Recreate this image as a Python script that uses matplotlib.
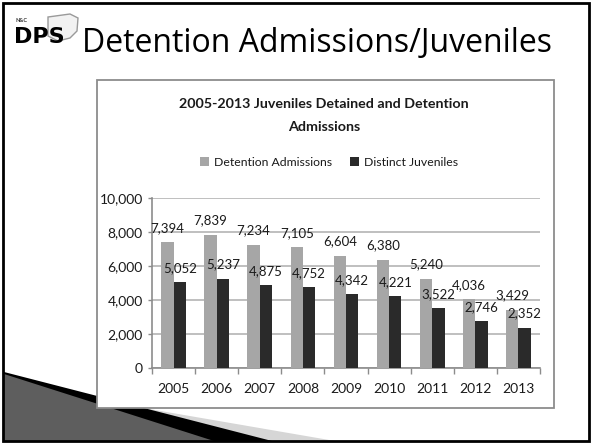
import matplotlib
matplotlib.use("Agg")
import matplotlib.pyplot as plt
from matplotlib.patches import Rectangle, Polygon
from matplotlib.ticker import FuncFormatter, MultipleLocator
import numpy as np

# data
years = ["2005", "2006", "2007", "2008", "2009", "2010", "2011", "2012", "2013"]
admissions = [7394, 7839, 7234, 7105, 6604, 6380, 5240, 4036, 3429]
juveniles = [5052, 5237, 4875, 4752, 4342, 4221, 3522, 2746, 2352]
series_names = ["Detention Admissions", "Distinct Juveniles"]

W, H = 592, 444
narrow = ["Lato", "DejaVu Sans"]
light_grey = "#a6a6a6"
dark_grey = "#2a2a2a"


def fx(px):
    return px / W


def fy(py):
    return 1 - py / H


fig = plt.figure(figsize=(W / 100, H / 100), dpi=100)
fig.patch.set_facecolor("white")

# slide decoration in the lower-left corner
fig.patches.append(Polygon([(fx(4), fy(384)), (fx(335), fy(441)), (fx(4), fy(441))],
                           closed=True, transform=fig.transFigure, facecolor="#d6d6d6",
                           edgecolor="none", zorder=0))
fig.patches.append(Polygon([(fx(4), fy(372)), (fx(272), fy(441)), (fx(4), fy(441))],
                           closed=True, transform=fig.transFigure, facecolor="black",
                           edgecolor="none", zorder=0))
fig.patches.append(Polygon([(fx(4), fy(374)), (fx(214), fy(441)), (fx(4), fy(441))],
                           closed=True, transform=fig.transFigure, facecolor="#5e5e5e",
                           edgecolor="none", zorder=0))

# slide border
fig.patches.append(Rectangle((fx(3), fy(441)), fx(586), 438 / H, transform=fig.transFigure,
                             facecolor="none", edgecolor="black", lw=2.0, zorder=5))

# logo
fig.patches.append(Polygon([(fx(48), fy(17)), (fx(70), fy(14)), (fx(78), fy(18)), (fx(77), fy(31)),
                            (fx(70), fy(38)), (fx(58), fy(41)), (fx(48), fy(36))],
                           closed=True, transform=fig.transFigure, facecolor="#f2f2f2",
                           edgecolor="#9a9a9a", lw=1.0, zorder=1))
fig.text(fx(16), fy(20), "N&C", fontsize=4, fontweight="bold", color="#333333",
         va="center", ha="left", family=narrow)
fig.text(fx(14), fy(37), "DPS", fontsize=16, fontweight="heavy", color="black",
         va="center", ha="left", family=["DejaVu Sans"], zorder=2)

# slide title
fig.text(fx(82), fy(43), "Detention Admissions/Juveniles", fontsize=23, color="black",
         va="center", ha="left", family=["Open Sans", "DejaVu Sans"])

# chart frame
fig.patches.append(Rectangle((fx(97), fy(408)), fx(457), 328 / H, transform=fig.transFigure,
                             facecolor="white", edgecolor="#8c8c8c", lw=1.3, zorder=1))

fig.text(fx(324), fy(104), "2005-2013 Juveniles Detained and Detention", fontsize=10.3,
         fontweight="bold", color="#1a1a1a", ha="center", va="center", family=narrow)
fig.text(fx(324), fy(127), "Admissions", fontsize=10.3,
         fontweight="bold", color="#1a1a1a", ha="center", va="center", family=narrow)

ax = fig.add_axes([fx(152), fy(368), fx(388), 170 / H])
ax.set_zorder(2)
ax.patch.set_alpha(0)

x = np.arange(len(years))
bw = 0.286
b1 = ax.bar(x - bw / 2, admissions, bw, color=light_grey, label=series_names[0], zorder=3)
b2 = ax.bar(x + bw / 2, juveniles, bw, color=dark_grey, label=series_names[1], zorder=3)

for bars, vals in ((b1, admissions), (b2, juveniles)):
    for rect, v in zip(bars, vals):
        ax.annotate(f"{v:,}", (rect.get_x() + rect.get_width() / 2, v),
                    xytext=(0, 7.5), textcoords="offset points", ha="center",
                    va="baseline", fontsize=9.5, color="#1a1a1a", family=narrow, zorder=4)

ax.set_xlim(-0.5, len(years) - 0.5)
ax.set_ylim(0, 10000)
ax.yaxis.set_major_locator(MultipleLocator(2000))
ax.yaxis.set_major_formatter(FuncFormatter(lambda v, p: f"{int(v):,}"))
ax.set_xticks(x)
ax.set_xticklabels(years)
ax.set_xticks(np.arange(-0.5, len(years)), minor=True)
ax.tick_params(axis="x", which="major", length=0, pad=11, labelsize=10, labelcolor="#1a1a1a")
ax.tick_params(axis="x", which="minor", length=4, color="#8c8c8c", width=1)
ax.tick_params(axis="y", which="major", length=3, color="#8c8c8c", width=1, pad=3.5,
               labelsize=10, labelcolor="#1a1a1a")
for lab in ax.get_xticklabels() + ax.get_yticklabels():
    lab.set_family(narrow)

ax.grid(axis="y", color="#b4b4b4", lw=1.2, zorder=0)
for side in ("top", "right"):
    ax.spines[side].set_visible(False)
for side in ("left", "bottom"):
    ax.spines[side].set_color("#8c8c8c")
    ax.spines[side].set_linewidth(1.2)

fig.legend(handles=[b1, b2], labels=series_names, loc="center", bbox_to_anchor=(fx(329), fy(162)),
           ncol=2, frameon=False, handlelength=0.7, handleheight=0.7, handletextpad=0.4,
           columnspacing=1.5, prop={"family": narrow, "size": 8.8}, labelcolor="#1a1a1a")

fig.savefig("out.png", dpi=100, facecolor="white")
